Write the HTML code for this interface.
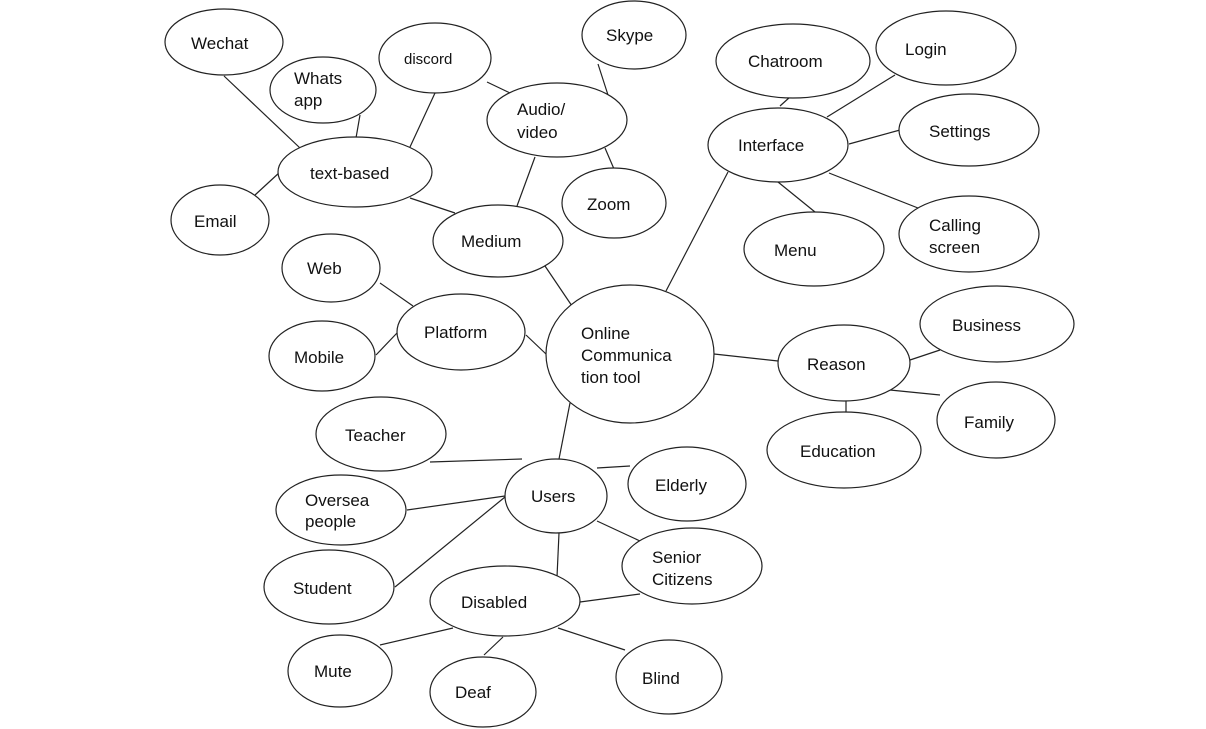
<!DOCTYPE html>
<html><head><meta charset="utf-8"><style>
html,body{margin:0;padding:0;background:#fff;}
svg{display:block}
text{font-family:"Liberation Sans",Arial,sans-serif;font-size:17px;fill:#111}
</style></head><body>
<svg width="1206" height="729" viewBox="0 0 1206 729" xmlns="http://www.w3.org/2000/svg">
<g stroke="#222" stroke-width="1.2" fill="none">
<line x1="224" y1="76" x2="300" y2="148"/>
<line x1="360" y1="115" x2="356" y2="138"/>
<line x1="435" y1="93" x2="410" y2="147"/>
<line x1="487" y1="82" x2="510" y2="93"/>
<line x1="598" y1="64" x2="608" y2="95"/>
<line x1="605" y1="148" x2="614" y2="169"/>
<line x1="535" y1="157" x2="517" y2="206"/>
<line x1="280" y1="172" x2="255" y2="195"/>
<line x1="410" y1="198" x2="455" y2="213"/>
<line x1="545" y1="266" x2="572" y2="306"/>
<line x1="380" y1="283" x2="413" y2="306"/>
<line x1="376" y1="355" x2="397" y2="333"/>
<line x1="526" y1="335" x2="546" y2="354"/>
<line x1="728" y1="172" x2="666" y2="291"/>
<line x1="780" y1="106" x2="790" y2="97"/>
<line x1="827" y1="117" x2="895" y2="75"/>
<line x1="849" y1="144" x2="900" y2="130"/>
<line x1="778" y1="182" x2="815" y2="212"/>
<line x1="829" y1="173" x2="918" y2="208"/>
<line x1="714" y1="354" x2="778" y2="361"/>
<line x1="910" y1="360" x2="940" y2="350"/>
<line x1="890" y1="390" x2="940" y2="395"/>
<line x1="846" y1="400" x2="846" y2="412"/>
<line x1="570" y1="403" x2="559" y2="459"/>
<line x1="430" y1="462" x2="522" y2="459"/>
<line x1="597" y1="468" x2="630" y2="466"/>
<line x1="407" y1="510" x2="505" y2="496"/>
<line x1="395" y1="587" x2="505" y2="497"/>
<line x1="559" y1="533" x2="557" y2="577"/>
<line x1="597" y1="521" x2="640" y2="541"/>
<line x1="580" y1="602" x2="640" y2="594"/>
<line x1="453" y1="628" x2="380" y2="645"/>
<line x1="503" y1="637" x2="484" y2="655"/>
<line x1="558" y1="628" x2="625" y2="650"/>
</g>
<g stroke="#222" stroke-width="1.2" fill="#fff">
<ellipse cx="224" cy="42" rx="59" ry="33"/>
<ellipse cx="323" cy="90" rx="53" ry="33"/>
<ellipse cx="435" cy="58" rx="56" ry="35"/>
<ellipse cx="634" cy="35" rx="52" ry="34"/>
<ellipse cx="557" cy="120" rx="70" ry="37"/>
<ellipse cx="793" cy="61" rx="77" ry="37"/>
<ellipse cx="946" cy="48" rx="70" ry="37"/>
<ellipse cx="355" cy="172" rx="77" ry="35"/>
<ellipse cx="778" cy="145" rx="70" ry="37"/>
<ellipse cx="969" cy="130" rx="70" ry="36"/>
<ellipse cx="220" cy="220" rx="49" ry="35"/>
<ellipse cx="614" cy="203" rx="52" ry="35"/>
<ellipse cx="498" cy="241" rx="65" ry="36"/>
<ellipse cx="814" cy="249" rx="70" ry="37"/>
<ellipse cx="969" cy="234" rx="70" ry="38"/>
<ellipse cx="331" cy="268" rx="49" ry="34"/>
<ellipse cx="461" cy="332" rx="64" ry="38"/>
<ellipse cx="322" cy="356" rx="53" ry="35"/>
<ellipse cx="630" cy="354" rx="84" ry="69"/>
<ellipse cx="997" cy="324" rx="77" ry="38"/>
<ellipse cx="844" cy="363" rx="66" ry="38"/>
<ellipse cx="996" cy="420" rx="59" ry="38"/>
<ellipse cx="381" cy="434" rx="65" ry="37"/>
<ellipse cx="844" cy="450" rx="77" ry="38"/>
<ellipse cx="556" cy="496" rx="51" ry="37"/>
<ellipse cx="687" cy="484" rx="59" ry="37"/>
<ellipse cx="341" cy="510" rx="65" ry="35"/>
<ellipse cx="692" cy="566" rx="70" ry="38"/>
<ellipse cx="329" cy="587" rx="65" ry="37"/>
<ellipse cx="505" cy="601" rx="75" ry="35"/>
<ellipse cx="340" cy="671" rx="52" ry="36"/>
<ellipse cx="483" cy="692" rx="53" ry="35"/>
<ellipse cx="669" cy="677" rx="53" ry="37"/>
</g>
<text x="191" y="49">Wechat</text>
<text x="294" y="84">Whats</text><text x="294" y="106">app</text>
<text x="404" y="64" style="font-size:15px">discord</text>
<text x="606" y="41">Skype</text>
<text x="517" y="115">Audio/</text><text x="517" y="138">video</text>
<text x="748" y="67">Chatroom</text>
<text x="905" y="55">Login</text>
<text x="310" y="179">text-based</text>
<text x="738" y="151">Interface</text>
<text x="929" y="137">Settings</text>
<text x="194" y="227">Email</text>
<text x="587" y="210">Zoom</text>
<text x="461" y="247">Medium</text>
<text x="774" y="256">Menu</text>
<text x="929" y="231">Calling</text><text x="929" y="253">screen</text>
<text x="307" y="274">Web</text>
<text x="424" y="338">Platform</text>
<text x="294" y="363">Mobile</text>
<text x="581" y="339">Online</text><text x="581" y="361">Communica</text><text x="581" y="383">tion tool</text>
<text x="952" y="331">Business</text>
<text x="807" y="370">Reason</text>
<text x="964" y="428">Family</text>
<text x="345" y="441">Teacher</text>
<text x="800" y="457">Education</text>
<text x="531" y="502">Users</text>
<text x="655" y="491">Elderly</text>
<text x="305" y="506">Oversea</text><text x="305" y="527">people</text>
<text x="652" y="563">Senior</text><text x="652" y="585">Citizens</text>
<text x="293" y="594">Student</text>
<text x="461" y="608">Disabled</text>
<text x="314" y="677">Mute</text>
<text x="455" y="698">Deaf</text>
<text x="642" y="684">Blind</text>
</svg>
</body></html>
